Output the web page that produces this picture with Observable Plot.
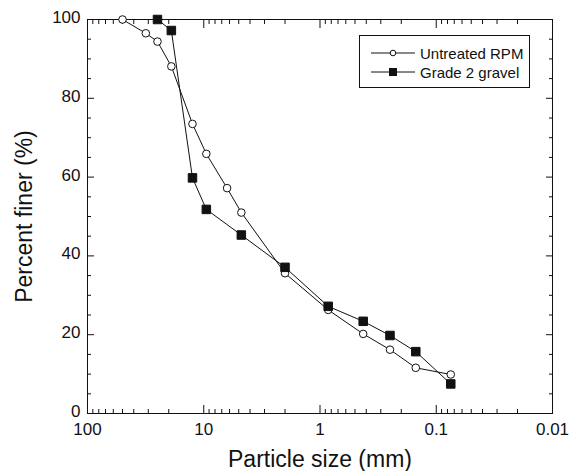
<!DOCTYPE html>
<html>
<head>
<meta charset="utf-8">
<script src="https://cdn.jsdelivr.net/npm/d3@7"></script>
<script src="https://cdn.jsdelivr.net/npm/@observablehq/plot@0.6"></script>
<style>
  html, body { margin: 0; padding: 0; background: #fff; }
  #wrap { position: relative; width: 580px; height: 471px; font-family: "Liberation Sans", Arial, Helvetica, sans-serif; }
  #legend { position: absolute; left: 359px; top: 35px; width: 169px; height: 51px; border: 1px solid #111; background: #fff; }
  .row { position: absolute; height: 20px; display: flex; align-items: center; }
  .row svg { display: block; }
  .row span { font-size: 15px; color: #111; margin-left: 5px; white-space: nowrap; }
</style>
</head>
<body>
<div id="wrap"></div>
<script>
// Untreated RPM (open circles)
const rpmSize  = [50, 31.5, 25, 19, 12.5, 9.5, 6.3, 4.75, 2, 0.85, 0.425, 0.25, 0.15, 0.075];
const rpmFiner = [100, 96.5, 94.4, 88.1, 73.5, 65.9, 57.2, 51.0, 35.6, 26.3, 20.2, 16.2, 11.6, 9.9];
// Grade 2 gravel (filled squares)
const gravelSize  = [25, 19, 12.5, 9.5, 4.75, 2, 0.85, 0.425, 0.25, 0.15, 0.075];
const gravelFiner = [100, 97.2, 59.8, 51.8, 45.3, 37.1, 27.2, 23.4, 19.8, 15.7, 7.5];

const seriesNames = ["Untreated RPM", "Grade 2 gravel"];
const xMajorTicks = [100, 10, 1, 0.1, 0.01];
const xTickLabels = ["100", "10", "1", "0.1", "0.01"];
const yMajorTicks = [0, 20, 40, 60, 80, 100];
const yMinorTicks = [5, 10, 15, 25, 30, 35, 45, 50, 55, 65, 70, 75, 85, 90, 95];
const xMinorTicks = [];
for (const base of [10, 1, 0.1, 0.01]) for (let k = 2; k <= 9; k++) xMinorTicks.push(+(k * base).toPrecision(3));

const rpm = rpmSize.map((s, i) => ({size: s, finer: rpmFiner[i]}));
const gravel = gravelSize.map((s, i) => ({size: s, finer: gravelFiner[i]}));

const font = '"Liberation Sans", Arial, Helvetica, sans-serif';

const chart = Plot.plot({
  width: 580,
  height: 471,
  marginLeft: 87,
  marginRight: 28,
  marginTop: 19,
  marginBottom: 58,
  style: {fontFamily: font, fontSize: "17px", color: "#111", background: "#fff"},
  x: {type: "log", domain: [100, 0.01], label: null},
  y: {domain: [0, 100], label: null},
  marks: [
    Plot.frame({stroke: "#111", strokeWidth: 1}),
    // inward ticks, bottom and top
    Plot.axisX(xMajorTicks, {anchor: "bottom", tickSize: -8, fill: "none", label: null}),
    Plot.axisX(xMinorTicks, {anchor: "bottom", tickSize: -4, fill: "none", label: null}),
    Plot.axisX(xMajorTicks, {anchor: "top", tickSize: -8, fill: "none", label: null}),
    Plot.axisX(xMinorTicks, {anchor: "top", tickSize: -4, fill: "none", label: null}),
    Plot.axisX(xMajorTicks, {anchor: "bottom", tickSize: 0, tickPadding: 9, label: null,
      tickFormat: (d) => xTickLabels[xMajorTicks.indexOf(d)], fontSize: 17}),
    // inward ticks, left and right
    Plot.axisY(yMajorTicks, {anchor: "left", tickSize: -7, fill: "none", label: null}),
    Plot.axisY(yMinorTicks, {anchor: "left", tickSize: -4, fill: "none", label: null}),
    Plot.axisY(yMajorTicks, {anchor: "right", tickSize: -7, fill: "none", label: null}),
    Plot.axisY(yMinorTicks, {anchor: "right", tickSize: -4, fill: "none", label: null}),
    Plot.axisY(yMajorTicks, {anchor: "left", tickSize: 0, tickPadding: 7, dy: -2, label: null,
      tickFormat: (d) => String(d), fontSize: 17}),
    // axis titles
    Plot.text(["Particle size (mm)"], {frameAnchor: "bottom", dy: 46, lineAnchor: "middle", textAnchor: "middle", fontSize: 23, fill: "#111"}),
    Plot.text(["Percent finer (%)"], {frameAnchor: "left", dx: -63, rotate: -90, lineAnchor: "middle", textAnchor: "middle", fontSize: 23, fill: "#111"}),
    // series
    Plot.line(rpm, {x: "size", y: "finer", stroke: "#111", strokeWidth: 1}),
    Plot.line(gravel, {x: "size", y: "finer", stroke: "#111", strokeWidth: 1}),
    Plot.dot(rpm, {x: "size", y: "finer", symbol: "circle", r: 3.8, fill: "#fff", stroke: "#111", strokeWidth: 1}),
    Plot.dot(gravel, {x: "size", y: "finer", symbol: "square", r: 4.8, fill: "#111", stroke: "#111", strokeWidth: 1})
  ]
});

const wrap = document.getElementById("wrap");
wrap.appendChild(chart);

// legend
const legend = document.createElement("div");
legend.id = "legend";
const symbols = [
  '<circle cx="22" cy="10" r="2.8" fill="#fff" stroke="#111" stroke-width="1"/>',
  '<rect x="18" y="6" width="8" height="8" fill="#111"/>'
];
seriesNames.forEach((name, i) => {
  const row = document.createElement("div");
  row.className = "row";
  row.style.top = (7 + i * 19) + "px";
  row.style.left = "11px";
  row.innerHTML = `<svg width="44" height="20"><line x1="0" x2="44" y1="10" y2="10" stroke="#111" stroke-width="1"/>${symbols[i]}</svg><span>${name}</span>`;
  legend.appendChild(row);
});
wrap.appendChild(legend);
</script>
</body>
</html>
